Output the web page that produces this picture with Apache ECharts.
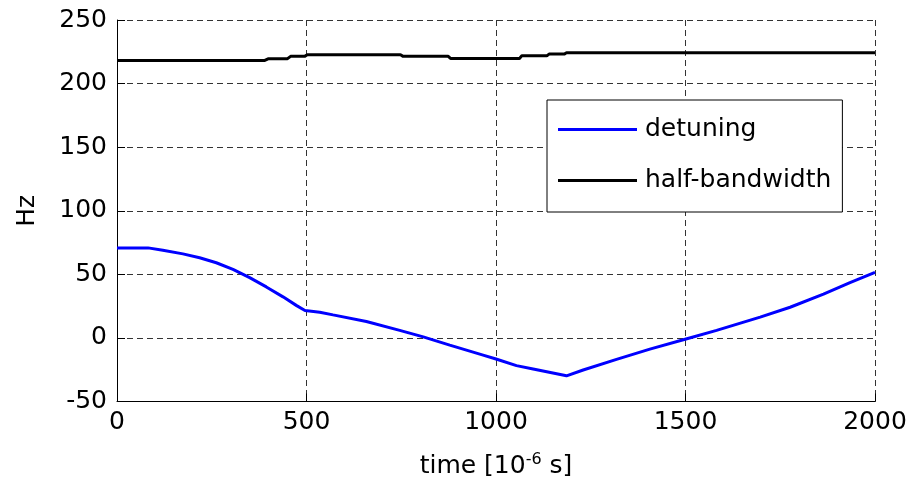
<!DOCTYPE html>
<html>
<head>
<meta charset="utf-8">
<script src="https://cdn.jsdelivr.net/npm/echarts@6/dist/echarts.min.js"></script>
<style>html,body{margin:0;padding:0;background:#fff;}#c{width:921px;height:484px;}</style>
</head>
<body>
<div id="c"></div>
<script>
// ---- data ----
var seriesNames = ['detuning', 'half-bandwidth'];
var xTicks = [0, 500, 1000, 1500, 2000];
var yTicks = [-50, 0, 50, 100, 150, 200, 250];

var detuningTime = [0, 82, 121, 174, 218, 262, 306, 350, 394, 438, 474, 496, 535, 570, 658, 746, 808, 878, 966, 1000, 1054, 1098, 1186, 1230, 1318, 1406, 1499, 1582, 1697, 1776, 1864, 1934, 2000];
var detuningHz = [70.8, 70.8, 68.9, 66.1, 63.0, 59.1, 53.9, 47.4, 40.1, 32.3, 25.4, 21.5, 20.2, 18.1, 12.9, 5.9, 0.8, -5.7, -13.5, -16.6, -21.8, -24.4, -29.8, -25.2, -16.9, -8.8, -1.0, 5.9, 16.3, 24.1, 34.4, 43.5, 51.5];

var bandwidthTime = [0, 390, 400, 450, 458, 495, 502, 748, 755, 874, 880, 1062, 1068, 1134, 1140, 1180, 1186, 2000];
var bandwidthHz = [218.2, 218.2, 219.6, 219.6, 221.4, 221.4, 222.7, 222.7, 221.4, 221.4, 219.8, 219.8, 221.8, 221.8, 223.2, 223.2, 224.2, 224.2];

function zip(a, b) { return a.map(function (v, i) { return [v, b[i]]; }); }

var FONT = 'DejaVu Sans';
var FS = 25;
var chart = echarts.init(document.getElementById('c'), null, { renderer: 'canvas' });
var grid = { left: 117, right: 46, top: 20, bottom: 81 };
var gridLine = { show: true, lineStyle: { color: '#333', width: 1, type: [6, 4] } };

chart.setOption({
  animation: false,
  backgroundColor: '#fff',
  grid: grid,
  legend: {
    data: seriesNames,
    orient: 'vertical',
    left: 547,
    top: 100,
    icon: 'rect',
    itemWidth: 79,
    itemHeight: 3,
    itemGap: 26,
    padding: [17, 11, 19, 11],
    backgroundColor: '#fff',
    borderColor: '#000',
    borderWidth: 1,
    borderRadius: 0,
    textStyle: { fontFamily: FONT, fontSize: FS, color: '#000', lineHeight: 24, padding: [0, 0, 0, 3] }
  },
  xAxis: {
    type: 'value',
    min: 0, max: 2000, interval: 500,
    name: 'time [10{sup|-6} s]',
    nameLocation: 'middle',
    nameGap: 50,
    nameTextStyle: {
      fontFamily: FONT, fontSize: FS, color: '#000',
      rich: { sup: { fontFamily: FONT, fontSize: 16, color: '#000', verticalAlign: 'top', padding: [0, 0, 14, 0] } }
    },
    axisLine: { show: true, onZero: false, lineStyle: { color: '#000', width: 1 } },
    axisTick: { show: true, inside: true, length: 8, lineStyle: { color: '#000' } },
    axisLabel: { fontFamily: FONT, fontSize: FS, color: '#000', margin: 8,
      formatter: function (v) { return String(v); } },
    splitLine: gridLine
  },
  yAxis: {
    type: 'value',
    min: -50, max: 250, interval: 50,
    name: 'Hz',
    nameLocation: 'middle',
    nameRotate: 90,
    nameGap: 77,
    nameTextStyle: { fontFamily: FONT, fontSize: FS, color: '#000' },
    axisLine: { show: true, onZero: false, lineStyle: { color: '#000', width: 1 } },
    axisTick: { show: true, inside: true, length: 8, lineStyle: { color: '#000' } },
    axisLabel: { fontFamily: FONT, fontSize: FS, color: '#000', margin: 10,
      formatter: function (v) { return String(v); } },
    splitLine: gridLine
  },
  series: [
    {
      name: seriesNames[0], type: 'line', showSymbol: false, symbol: 'none',
      data: zip(detuningTime, detuningHz),
      lineStyle: { color: '#0000ff', width: 3 }, itemStyle: { color: '#0000ff' }, z: 3
    },
    {
      name: seriesNames[1], type: 'line', showSymbol: false, symbol: 'none',
      data: zip(bandwidthTime, bandwidthHz),
      lineStyle: { color: '#000000', width: 3 }, itemStyle: { color: '#000000' }, z: 3
    }
  ]
});
</script>
</body>
</html>
